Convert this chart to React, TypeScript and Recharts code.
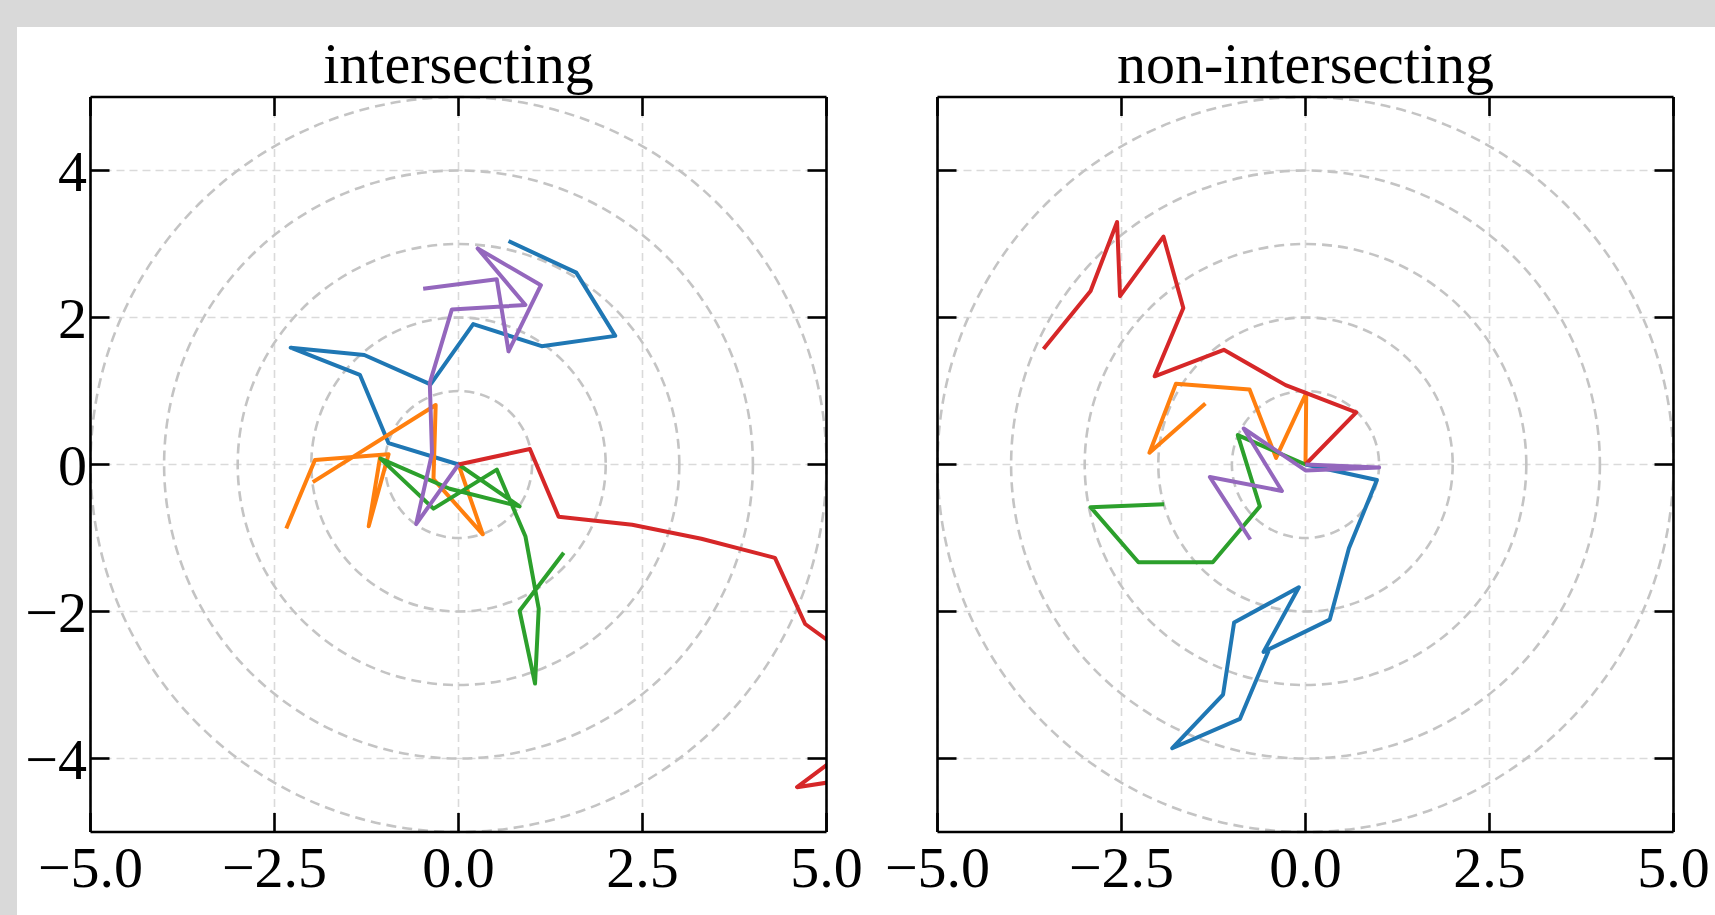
import React from 'react';
import * as Recharts from 'recharts';

const { LineChart, Line, XAxis, YAxis, CartesianGrid, Customized } = Recharts as any;
const R: any = Recharts;

// ---------- data ----------
const xTicks = [-5, -2.5, 0, 2.5, 5];
const yTicks = [-4, -2, 0, 2, 4];
const ringRadii = [1, 2, 3, 4, 5];
const panelTitles = ['intersecting', 'non-intersecting'];

const leftBlue = [[0, 0], [-0.95, 0.29], [-1.34, 1.22], [-2.28, 1.59], [-1.28, 1.49], [-0.38, 1.09], [0.2, 1.91], [1.13, 1.61], [2.13, 1.75], [1.6, 2.61], [0.68, 3.04]];
const leftOrangeA = [[0, 0], [0.33, -0.95], [-0.34, -0.2], [-0.31, 0.81], [-1.98, -0.24]];
const leftOrangeB = [[-1.06, 0.13], [-1.22, -0.84], [-0.95, 0.14], [-1.95, 0.06], [-2.34, -0.87]];
const leftGreen = [[0, 0], [0.83, -0.57], [-0.12, -0.33], [-1.06, 0.08], [-0.34, -0.6], [0.52, -0.07], [0.91, -0.98], [1.09, -1.96], [1.04, -2.98], [0.83, -1.99], [1.43, -1.2]];
const leftRed = [[0, 0], [0.97, 0.21], [1.36, -0.71], [2.36, -0.82], [3.3, -1.01], [4.3, -1.27], [4.71, -2.17], [5.52, -2.76], [5.4, -3.79], [4.6, -4.39], [5.59, -4.24]];
const leftPurple = [[0, 0], [-0.575, -0.81], [-0.36, 0.15], [-0.39, 1.11], [-0.09, 2.11], [0.91, 2.17], [0.26, 2.94], [1.12, 2.44], [0.68, 1.54], [0.52, 2.52], [-0.48, 2.39]];

const rightBlue = [[0, 0], [0.97, -0.21], [0.59, -1.14], [0.33, -2.11], [-0.57, -2.55], [-0.09, -1.67], [-0.97, -2.15], [-1.12, -3.13], [-1.81, -3.86], [-0.89, -3.46], [-0.5, -2.53]];
const rightOrange = [[0, 0], [0.01, 0.97], [-0.4, 0.09], [-0.76, 1.02], [-1.76, 1.1], [-2.12, 0.16], [-1.36, 0.83]];
const rightGreen = [[0, 0], [-0.92, 0.4], [-0.62, -0.57], [-1.26, -1.33], [-2.27, -1.33], [-2.92, -0.58], [-1.92, -0.54]];
const rightRed = [[0, 0], [0.69, 0.71], [-0.27, 1.08], [-1.11, 1.56], [-2.05, 1.2], [-1.66, 2.13], [-1.93, 3.1], [-2.52, 2.29], [-2.56, 3.3], [-2.92, 2.36], [-3.56, 1.57]];
const rightPurple = [[0, 0], [1.0, -0.04], [0.0, -0.08], [-0.84, 0.49], [-0.32, -0.36], [-1.3, -0.17], [-0.75, -1.02]];

// ---------- style ----------
const C = { blue: '#1f77b4', orange: '#ff7f0e', green: '#2ca02c', red: '#d62728', purple: '#9467bd' };
const FONT = '"Liberation Serif", "DejaVu Serif", serif';
const FS = 58;
const X_DOMAIN: [number, number] = [-5, 5];
const Y_DOMAIN: [number, number] = [-5, 5];
const CH_W = 900;
const CH_H = 915;
const MARGIN = { top: 87, left: 10.5, right: 63.5, bottom: 0 };
const FALLBACK_AREA = { x: 90.5, y: 97, width: 736, height: 735 };

const toPts = (a: number[][]) => a.map(([x, y]) => ({ x, y }));

const leftSeries = [
  { key: 'lb', pts: leftBlue, color: C.blue },
  { key: 'loa', pts: leftOrangeA, color: C.orange },
  { key: 'lob', pts: leftOrangeB, color: C.orange },
  { key: 'lg', pts: leftGreen, color: C.green },
  { key: 'lr', pts: leftRed, color: C.red },
  { key: 'lp', pts: leftPurple, color: C.purple },
];
const rightSeries = [
  { key: 'rb', pts: rightBlue, color: C.blue },
  { key: 'ro', pts: rightOrange, color: C.orange },
  { key: 'rg', pts: rightGreen, color: C.green },
  { key: 'rr', pts: rightRed, color: C.red },
  { key: 'rp', pts: rightPurple, color: C.purple },
];

const fmtX = (v: number) => (v < 0 ? '\u2212' : '') + Math.abs(v).toFixed(1);
const fmtY = (v: number) => (v < 0 ? '\u2212' : '') + String(Math.abs(v));

function usePlotAreaSafe() {
  const pa = R.usePlotArea ? R.usePlotArea() : undefined;
  if (pa && pa.width) return pa;
  return FALLBACK_AREA;
}

function Rings() {
  const a = usePlotAreaSafe();
  const kx = a.width / (X_DOMAIN[1] - X_DOMAIN[0]);
  const ky = a.height / (Y_DOMAIN[1] - Y_DOMAIN[0]);
  const cx = a.x + (0 - X_DOMAIN[0]) * kx;
  const cy = a.y + (Y_DOMAIN[1] - 0) * ky;
  return (
    <g>
      {ringRadii.map((r) => (
        <ellipse key={r} cx={cx} cy={cy} rx={r * kx} ry={r * ky} fill="none" stroke="#c4c4c4" strokeWidth={2.6} strokeDasharray="10 6" />
      ))}
    </g>
  );
}

function Title({ text }: { text: string }) {
  const a = usePlotAreaSafe();
  return (
    <text x={a.x + a.width / 2} y={a.y - 14} textAnchor="middle" fontFamily={FONT} fontSize={FS} fill="#000">
      {text}
    </text>
  );
}

const EmptyTick = () => <g />;

function Panel({ series, title, showYLabels }: { series: any[]; title: string; showYLabels: boolean }) {
  const tickStyle = { fill: '#000', fontSize: FS, fontFamily: FONT };
  const lineStyle = { stroke: '#000', strokeWidth: 2.6 };
  return (
    <LineChart width={CH_W} height={CH_H} margin={MARGIN}>
      <CartesianGrid stroke="#dadada" strokeWidth={1.6} strokeDasharray="8 5" />
      <XAxis
        xAxisId={0}
        dataKey="x"
        type="number"
        domain={X_DOMAIN}
        ticks={xTicks}
        allowDataOverflow
        interval={0}
        height={83}
        tickSize={-19}
        tickMargin={33}
        tickFormatter={fmtX}
        tick={tickStyle}
        axisLine={lineStyle}
        tickLine={lineStyle}
      />
      <XAxis
        xAxisId="top"
        orientation="top"
        dataKey="x"
        type="number"
        domain={X_DOMAIN}
        ticks={xTicks}
        allowDataOverflow
        interval={0}
        height={10}
        tickSize={-19}
        tick={EmptyTick}
        axisLine={lineStyle}
        tickLine={lineStyle}
      />
      <YAxis
        yAxisId={0}
        type="number"
        domain={Y_DOMAIN}
        ticks={yTicks}
        allowDataOverflow
        interval={0}
        width={80}
        tickSize={-19}
        tickMargin={22.5}
        tickFormatter={fmtY}
        tick={showYLabels ? tickStyle : EmptyTick}
        axisLine={lineStyle}
        tickLine={lineStyle}
      />
      <YAxis
        yAxisId="right"
        orientation="right"
        type="number"
        domain={Y_DOMAIN}
        ticks={yTicks}
        allowDataOverflow
        interval={0}
        width={10}
        tickSize={-19}
        tick={EmptyTick}
        axisLine={lineStyle}
        tickLine={lineStyle}
      />
      <Customized component={<Rings />} />
      <Customized component={<Title text={title} />} />
      {series.map((s) => (
        <Line
          key={s.key}
          data={toPts(s.pts)}
          dataKey="y"
          xAxisId={0}
          yAxisId={0}
          type="linear"
          stroke={s.color}
          strokeWidth={4}
          strokeLinejoin="round"
          dot={false}
          activeDot={false}
          isAnimationActive={false}
        />
      ))}
    </LineChart>
  );
}

export default function App() {
  return (
    <div style={{ position: 'fixed', left: 0, top: 0, width: 1715, height: 915, background: '#d9d9d9', overflow: 'hidden' }}>
      <div style={{ position: 'absolute', left: 17, top: 27, right: 0, bottom: 0, background: '#ffffff' }} />
      <div style={{ position: 'absolute', left: 0, top: 0 }}>
        <Panel series={leftSeries} title={panelTitles[0]} showYLabels={true} />
      </div>
      <div style={{ position: 'absolute', left: 846.5, top: 0 }}>
        <Panel series={rightSeries} title={panelTitles[1]} showYLabels={false} />
      </div>
    </div>
  );
}
